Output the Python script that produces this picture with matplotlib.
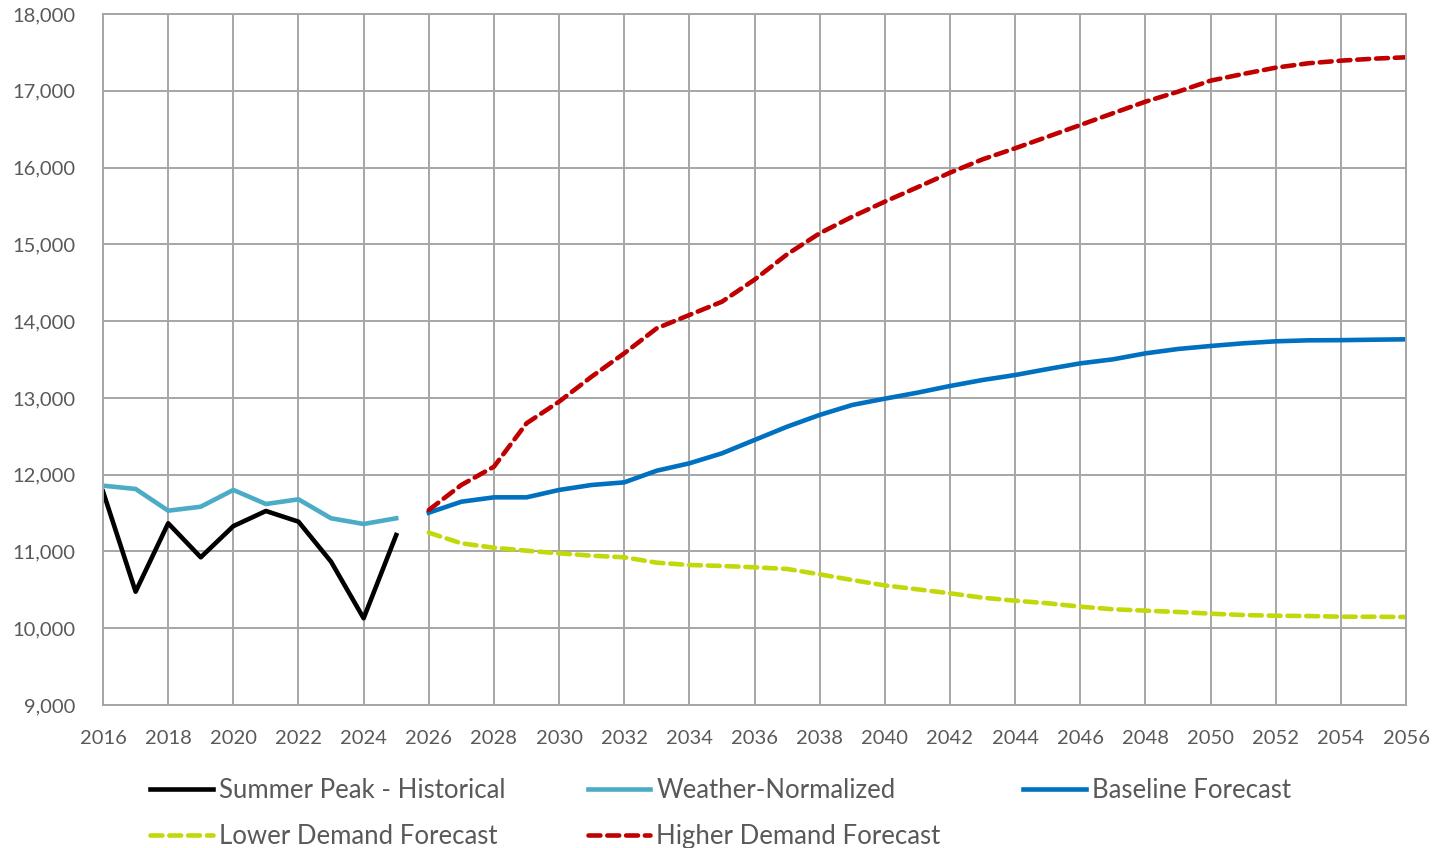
import matplotlib.pyplot as plt
from matplotlib.ticker import FuncFormatter, MultipleLocator

plt.rcParams['font.family'] = ['Lato', 'DejaVu Sans']

# Summer peak demand (MW)
hist_years = list(range(2016, 2026))
summer_peak = [11780, 10476, 11367, 10924, 11330, 11527, 11388, 10867, 10130, 11214]
weather_norm = [11857, 11814, 11531, 11583, 11801, 11618, 11679, 11432, 11358, 11432]

fc_years = list(range(2026, 2057))
baseline = [11505, 11648, 11705, 11705, 11801, 11866, 11900, 12052, 12148, 12278,
            12452, 12625, 12778, 12908, 12990, 13068, 13155, 13233, 13298, 13376,
            13450, 13502, 13580, 13637, 13676, 13711, 13737, 13750, 13752, 13758,
            13763]
lower = [11245, 11106, 11049, 11010, 10976, 10945, 10924, 10854, 10824, 10811,
         10794, 10772, 10702, 10628, 10558, 10507, 10455, 10398, 10359, 10325,
         10281, 10247, 10229, 10212, 10190, 10172, 10163, 10159, 10150, 10150,
         10146]
higher = [11540, 11866, 12104, 12669, 12951, 13277, 13581, 13907, 14080, 14253,
          14540, 14870, 15144, 15360, 15556, 15743, 15933, 16107, 16251, 16402,
          16554, 16707, 16858, 16988, 17132, 17219, 17301, 17358, 17392, 17418,
          17436]

grid_col = '#A6A6A6'
text_col = '#595959'

fig = plt.figure(figsize=(14.39, 8.48), dpi=100)
ax = fig.add_axes([0.0716, 0.1686, 0.9055, 0.8149])

lw = 3.3
l1, = ax.plot(hist_years, summer_peak, color='#000000', lw=lw,
              solid_joinstyle='round', label='Summer Peak - Historical')
l2, = ax.plot(hist_years, weather_norm, color='#4BACC6', lw=lw,
              solid_joinstyle='round', label='Weather-Normalized')
l3, = ax.plot(fc_years, baseline, color='#0070C0', lw=lw,
              solid_joinstyle='round', label='Baseline Forecast')
l4, = ax.plot(fc_years, lower, color='#C2D80A', lw=lw, dashes=(2.6, 1.5),
              dash_capstyle='round', label='Lower Demand Forecast')
l5, = ax.plot(fc_years, higher, color='#C00000', lw=lw, dashes=(2.6, 1.5),
              dash_capstyle='round', label='Higher Demand Forecast')

ax.set_xlim(2016, 2056)
ax.set_ylim(9000, 18000)
ax.xaxis.set_major_locator(MultipleLocator(2))
ax.yaxis.set_major_locator(MultipleLocator(1000))
ax.yaxis.set_major_formatter(FuncFormatter(lambda v, p: f'{int(v):,}'))
ax.grid(True, color=grid_col, lw=1.4)
ax.set_axisbelow(True)
for s in ax.spines.values():
    s.set_color(grid_col)
    s.set_linewidth(1.4)
ax.tick_params(length=0, labelsize=14.5, colors=text_col)
ax.tick_params(axis='x', pad=18)
ax.tick_params(axis='y', pad=20)

fig.legend([l1, l4, l2, l5, l3],
           [l.get_label() for l in [l1, l4, l2, l5, l3]],
           loc='upper left', bbox_to_anchor=(0.1042, 0.083), ncol=3,
           frameon=False, fontsize=18.5, labelcolor=text_col,
           handlelength=2.45, handletextpad=0.23, columnspacing=3.2,
           labelspacing=0.85, borderaxespad=0, borderpad=0)

plt.savefig('out.png', dpi=100)
